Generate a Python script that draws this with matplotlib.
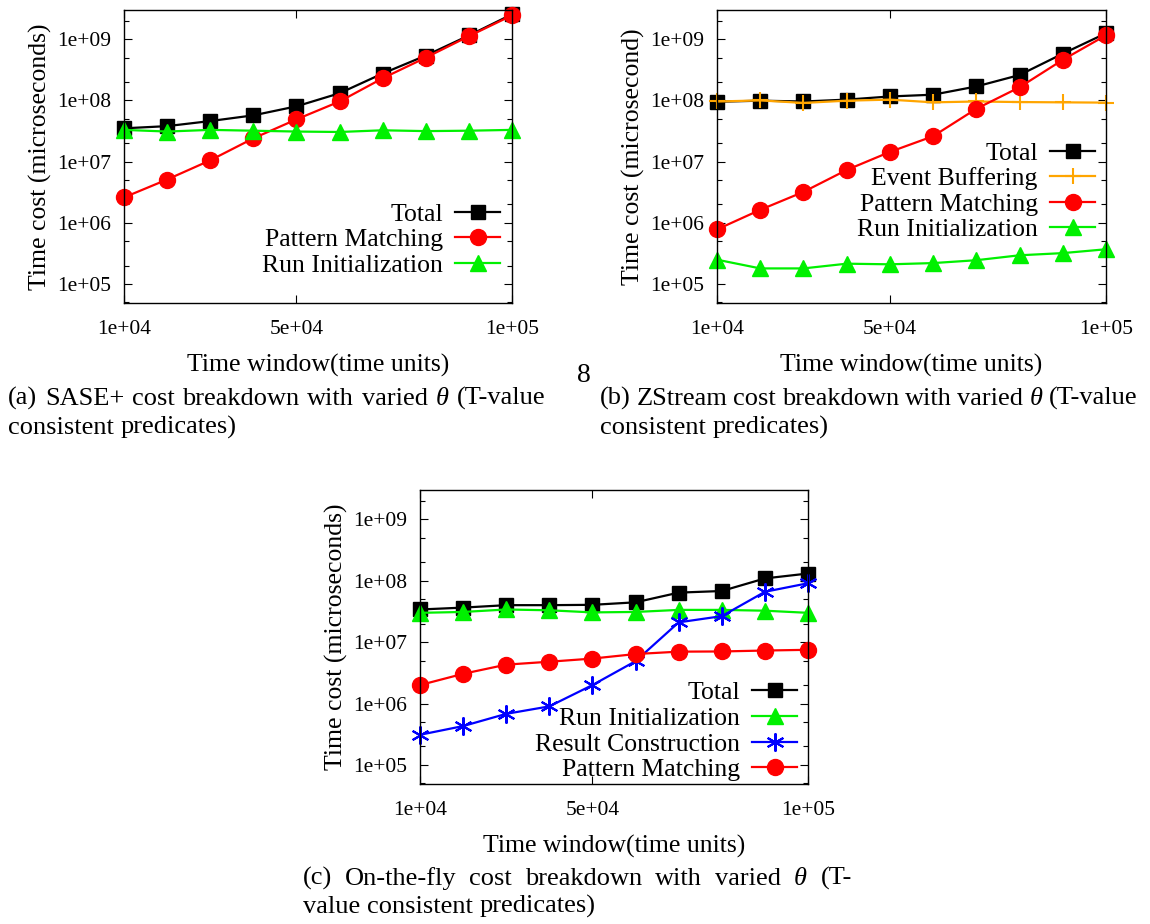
import matplotlib
matplotlib.use("Agg")
import matplotlib.pyplot as plt
from matplotlib.ticker import FixedLocator, LogLocator, NullFormatter

plt.rcParams.update({
    "font.family": "Liberation Serif",
    "mathtext.fontset": "custom",
    "mathtext.rm": "Liberation Serif",
    "mathtext.it": "Liberation Serif:italic",
})

# ---- data ---------------------------------------------------------------
time_window = [10000, 20000, 30000, 40000, 50000, 60000, 70000, 80000, 90000, 100000]
x_ticks = [10000, 50000, 100000]
x_tick_labels = ["1e+04", "5e+04", "1e+05"]
y_ticks = [1e5, 1e6, 1e7, 1e8, 1e9]
y_tick_labels = ["1e+05", "1e+06", "1e+07", "1e+08", "1e+09"]

# (a) SASE+
sase_total = [3.5e7, 3.8e7, 4.6e7, 5.7e7, 8.0e7, 1.31e8, 2.75e8, 5.4e8, 1.15e9, 2.55e9]
sase_pattern = [2.6e6, 5.1e6, 1.05e7, 2.4e7, 4.9e7, 9.6e7, 2.3e8, 5.0e8, 1.12e9, 2.45e9]
sase_run_init = [3.3e7, 3.1e7, 3.3e7, 3.2e7, 3.1e7, 3.05e7, 3.25e7, 3.15e7, 3.2e7, 3.3e7]

# (b) ZStream
zs_total = [9.5e7, 9.9e7, 9.6e7, 1.03e8, 1.16e8, 1.24e8, 1.69e8, 2.6e8, 5.8e8, 1.25e9]
zs_buffering = [9.6e7, 1.0e8, 9.1e7, 9.9e7, 1.03e8, 9.3e7, 9.6e7, 9.4e7, 9.3e7, 9.2e7]
zs_pattern = [7.8e5, 1.63e6, 3.2e6, 7.3e6, 1.44e7, 2.6e7, 7.3e7, 1.64e8, 4.6e8, 1.16e9]
zs_run_init = [2.5e5, 1.8e5, 1.8e5, 2.15e5, 2.1e5, 2.2e5, 2.45e5, 2.95e5, 3.2e5, 3.7e5]

# (c) On-the-fly
otf_total = [3.4e7, 3.65e7, 4.0e7, 4.0e7, 4.05e7, 4.45e7, 6.4e7, 6.8e7, 1.09e8, 1.31e8]
otf_run_init = [3.0e7, 3.1e7, 3.4e7, 3.3e7, 3.05e7, 3.1e7, 3.35e7, 3.35e7, 3.25e7, 3.0e7]
otf_result = [3.1e5, 4.3e5, 6.8e5, 9.0e5, 2.0e6, 4.9e6, 2.1e7, 2.65e7, 6.6e7, 9.1e7]
otf_pattern = [2.0e6, 3.05e6, 4.3e6, 4.8e6, 5.4e6, 6.4e6, 7.0e6, 7.05e6, 7.3e6, 7.5e6]

# ---- styles -------------------------------------------------------------
STYLE = {
    "Total": dict(color="black", marker="s", markersize=10.5),
    "Pattern Matching": dict(color="#ff0000", marker="o", markersize=11.5),
    "Run Initialization": dict(color="#00f000", marker="^", markersize=11),
    "Event Buffering": dict(color="#ffa500", marker="+", markersize=12, markeredgewidth=1.5),
    "Result Construction": dict(color="#0000ff", marker=(6, 2, 0), markersize=13, markeredgewidth=1.5),
}

W, H = 1150, 924
fig = plt.figure(figsize=(W / 100, H / 100), dpi=100)


def px_axes(left, top, right, bottom):
    return fig.add_axes([left / W, 1 - bottom / H, (right - left) / W, (bottom - top) / H])


def setup(ax, ylabel):
    ax.set_yscale("log")
    ax.set_xlim(10000, 100000)
    ax.set_ylim(4.9e4, 3.0e9)
    ax.xaxis.set_major_locator(FixedLocator(x_ticks))
    ax.set_xticklabels(x_tick_labels)
    ax.yaxis.set_major_locator(FixedLocator(y_ticks))
    ax.set_yticklabels(y_tick_labels)
    ax.yaxis.set_minor_locator(LogLocator(base=10, subs=(2.0, 5.0)))
    ax.yaxis.set_minor_formatter(NullFormatter())
    ax.tick_params(which="both", direction="in", top=True, right=True,
                   labelsize=15.5, width=0.8)
    ax.tick_params(which="major", length=6)
    ax.tick_params(which="minor", length=3.5)
    ax.tick_params(axis="x", pad=12)
    ax.tick_params(axis="y", pad=9)
    for s in ax.spines.values():
        s.set_linewidth(1.0)
    ax.set_xlabel("Time window(time units)", fontsize=18.5, labelpad=11)
    ax.set_ylabel(ylabel, fontsize=18.5, labelpad=4)


def plot_series(ax, series):
    for name, values in series:
        ax.plot(time_window, values, label=name, linewidth=1.6, clip_on=False,
                **STYLE[name])


def add_legend(ax, anchor):
    ax.legend(loc="lower right", bbox_to_anchor=anchor, markerfirst=False,
              frameon=False, fontsize=18.5, handlelength=1.75, handletextpad=0.48,
              labelspacing=0.1, borderpad=0, borderaxespad=0, numpoints=1)


# (a)
ax_a = px_axes(124, 10, 512, 303)
plot_series(ax_a, [("Total", sase_total), ("Pattern Matching", sase_pattern),
                   ("Run Initialization", sase_run_init)])
setup(ax_a, "Time cost (microseconds)")
add_legend(ax_a, (0.97, 0.09))

# (b)
ax_b = px_axes(717, 10, 1106, 303)
plot_series(ax_b, [("Total", zs_total), ("Event Buffering", zs_buffering),
                   ("Pattern Matching", zs_pattern), ("Run Initialization", zs_run_init)])
setup(ax_b, "Time cost (microsecond)")
add_legend(ax_b, (0.972, 0.21))

# (c)
ax_c = px_axes(420, 490, 808, 784)
plot_series(ax_c, [("Total", otf_total), ("Run Initialization", otf_run_init),
                   ("Result Construction", otf_result), ("Pattern Matching", otf_pattern)])
setup(ax_c, "Time cost (microseconds)")
add_legend(ax_c, (0.972, 0.01))

# ---- captions -----------------------------------------------------------
renderer = fig.canvas.get_renderer()
CAP = 19


def caption_line(text, x0, baseline, x1=None):
    words = text.split()
    arts = [fig.text(0, 1 - baseline / H, w, fontsize=CAP, va="baseline", ha="left")
            for w in words]
    widths = [a.get_window_extent(renderer).width for a in arts]
    if x1 is None:
        gap = CAP * 100 / 72 * 0.25
    else:
        gap = (x1 - x0 - sum(widths)) / (len(words) - 1)
    x = x0
    for a, w in zip(arts, widths):
        a.set_x(x / W)
        x += w + gap


caption_line(r"(a) SASE+ cost breakdown with varied $\theta$ (T-value", 8, 405, 546)
caption_line("consistent predicates)", 8, 434)
caption_line(r"(b) ZStream cost breakdown with varied $\theta$ (T-value", 600, 405, 1138)
caption_line("consistent predicates)", 600, 434)
caption_line(r"(c) On-the-fly cost breakdown with varied $\theta$ (T-", 303, 885, 852)
caption_line("value consistent predicates)", 303, 913)

fig.text(584 / W, 1 - 376 / H, "8", fontsize=20, ha="center", va="center")

fig.savefig("out.png", dpi=100)
